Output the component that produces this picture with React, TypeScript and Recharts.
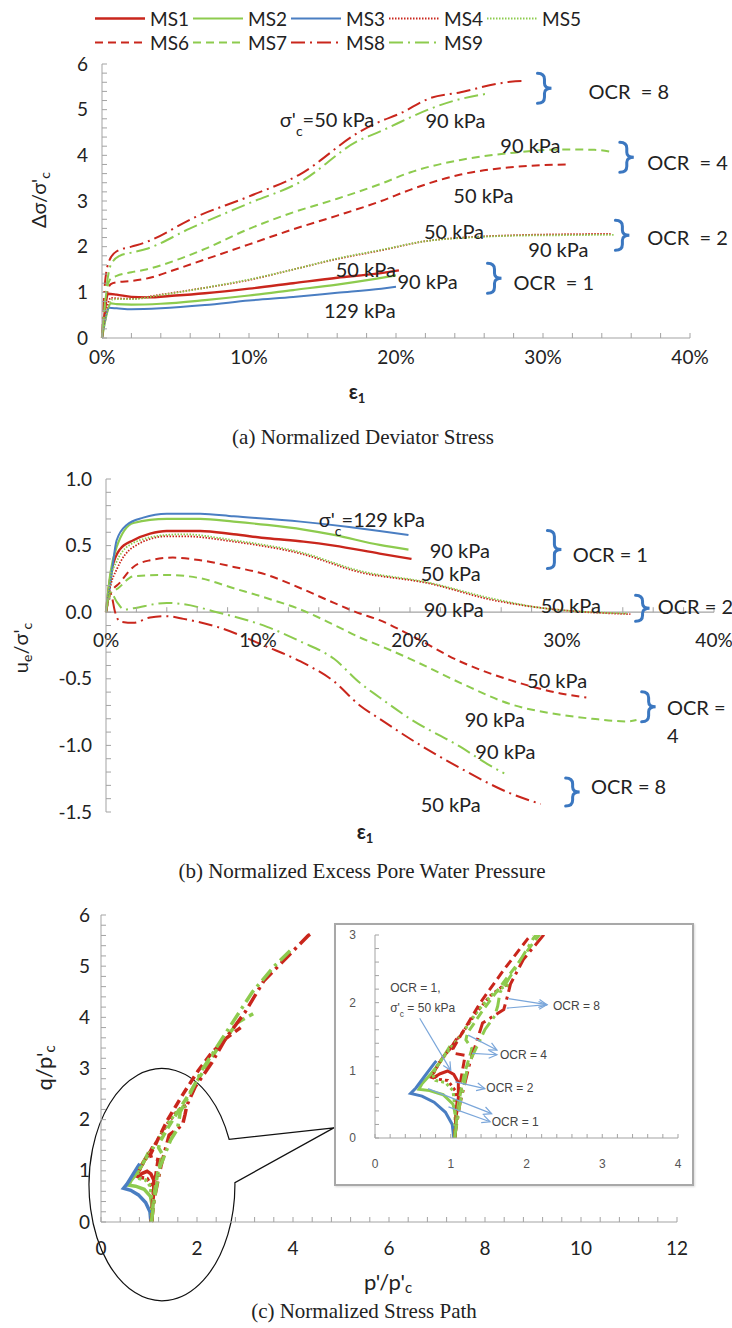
import React from 'react'
import {
  LineChart,
  Line,
  XAxis,
  YAxis,
  ReferenceDot,
  ReferenceLine,
  ReferenceArea,
} from 'recharts'

type Pt = [number, number]
type Note = { x: number; y: number; text: string; sub?: string; rest?: string }
type Brace = { x: number; y: number; h: number }
type Arrow = { from: Pt; to: Pt }

const RED = '#C9261C'
const GREEN = '#8DCB4E'
const BLUE = '#4A7EC2'
const AXIS = '#A3A3A3'
const INK = '#222'
const BRACE_BLUE = '#3B77C0'
const ARROW_BLUE = '#7AA6DA'
const SANS = 'Lato, "Open Sans", sans-serif'
const SERIF = '"Liberation Serif", "DejaVu Serif", serif'
const INSET_FONT = '"Liberation Sans", sans-serif'

// (a) normalized deviator stress vs axial strain (%)
const devMS1: Pt[] = [[0, 0], [0.2, 0.6], [0.4, 0.97], [1, 0.95], [2, 0.9], [3, 0.89], [5, 0.93], [7, 0.98], [10, 1.08], [13, 1.2], [16, 1.32], [18.7, 1.41], [20.2, 1.48]]
const devMS2: Pt[] = [[0, 0], [0.3, 0.5], [0.6, 0.76], [1, 0.74], [2, 0.73], [4, 0.75], [7, 0.83], [10, 0.93], [13, 1.05], [16, 1.17], [18.7, 1.3], [20, 1.37]]
const devMS3: Pt[] = [[0, 0], [0.2, 0.4], [0.5, 0.66], [1, 0.65], [2, 0.63], [4, 0.65], [7, 0.72], [10, 0.82], [13, 0.9], [16, 0.99], [19, 1.08], [20, 1.12]]
const devMS4: Pt[] = [[0, 0], [0.3, 0.6], [0.6, 0.88], [1, 0.87], [2, 0.86], [4, 0.95], [7, 1.1], [10, 1.27], [13, 1.5], [16, 1.73], [19, 1.92], [22, 2.12], [25, 2.21], [28, 2.25], [31, 2.27], [34.6, 2.28]]
const devMS5: Pt[] = [[0, 0], [0.3, 0.5], [0.7, 0.84], [1, 0.85], [2, 0.85], [4, 0.94], [7, 1.1], [10, 1.28], [13, 1.5], [16, 1.74], [19, 1.93], [22, 2.12], [25, 2.2], [28, 2.24], [31, 2.25], [34.8, 2.26]]
const devMS6: Pt[] = [[0, 0], [0.3, 0.9], [0.6, 1.18], [1, 1.22], [2, 1.25], [3, 1.3], [5, 1.5], [7, 1.72], [10, 2.05], [13, 2.38], [16, 2.68], [19, 3.0], [21, 3.25], [24.4, 3.58], [27.8, 3.74], [31.6, 3.8]]
const devMS7: Pt[] = [[0, 0], [0.3, 1.0], [0.6, 1.3], [1, 1.36], [2, 1.44], [3, 1.5], [5, 1.7], [7, 1.95], [10, 2.39], [13, 2.75], [16, 3.05], [19, 3.38], [21, 3.63], [24.4, 3.9], [27.8, 4.05], [31.2, 4.13], [33.5, 4.12], [34.8, 4.07]]
const devMS8: Pt[] = [[0, 0], [0.2, 1.2], [0.5, 1.7], [1, 1.9], [2, 2.0], [3, 2.1], [6.3, 2.64], [10, 3.1], [13.5, 3.59], [17.5, 4.51], [18.7, 4.71], [20.3, 4.92], [22.3, 5.25], [24.4, 5.38], [27.1, 5.58], [28.6, 5.63], [28.7, 5.56]]
const devMS9: Pt[] = [[0, 0], [0.3, 1.1], [0.6, 1.6], [1.2, 1.8], [2, 1.87], [3, 1.95], [6, 2.4], [10, 2.95], [13.5, 3.42], [17.5, 4.33], [18.7, 4.49], [20.3, 4.73], [22.1, 4.99], [24, 5.2], [26.2, 5.35]]

// (b) normalized excess pore pressure vs axial strain (%)
const ueMS1: Pt[] = [[0, 0], [0.2, 0.2], [0.4, 0.33], [0.9, 0.47], [1.8, 0.54], [2.9, 0.59], [4, 0.61], [6.2, 0.61], [8.4, 0.585], [10.6, 0.555], [13, 0.53], [15, 0.5], [18, 0.44], [20.1, 0.4]]
const ueMS2: Pt[] = [[0, 0], [0.3, 0.3], [0.7, 0.49], [1.8, 0.67], [4, 0.7], [6.2, 0.7], [8.4, 0.68], [10.6, 0.655], [13, 0.62], [15, 0.58], [18, 0.505], [19.9, 0.47]]
const ueMS3: Pt[] = [[0, 0], [0.26, 0.19], [0.7, 0.54], [1.36, 0.655], [2.45, 0.71], [4, 0.74], [6.2, 0.74], [8.4, 0.72], [12.8, 0.68], [16, 0.64], [18, 0.61], [19.9, 0.58]]
const ueMS4: Pt[] = [[0, 0], [0.3, 0.2], [0.7, 0.32], [1.8, 0.49], [4, 0.57], [5.1, 0.57], [8.4, 0.53], [12.8, 0.44], [16.7, 0.3], [21.1, 0.22], [25.5, 0.09], [28.8, 0.03], [34.5, -0.015]]
const ueMS5: Pt[] = [[0, 0], [0.3, 0.25], [0.7, 0.38], [1.8, 0.52], [4, 0.58], [5.1, 0.585], [8.4, 0.54], [12.8, 0.45], [16.7, 0.31], [21.1, 0.225], [25.5, 0.1], [28.8, 0.03], [34.3, -0.01]]
const ueMS6: Pt[] = [[0, 0], [0.3, 0.14], [0.9, 0.22], [1.8, 0.34], [2.9, 0.39], [4.4, 0.41], [6.2, 0.39], [8.4, 0.34], [10.6, 0.28], [12.8, 0.18], [15, 0.07], [16.7, -0.01], [18, -0.06], [20, -0.17], [23.3, -0.37], [26.6, -0.51], [29.9, -0.61], [31.6, -0.64]]
const ueMS7: Pt[] = [[0, 0], [0.3, 0.14], [0.8, 0.18], [1.8, 0.27], [4, 0.28], [6.2, 0.255], [8.4, 0.18], [10.6, 0.105], [12.8, 0.02], [15, -0.095], [16.7, -0.19], [18, -0.25], [20, -0.35], [23.3, -0.53], [26.6, -0.69], [29.9, -0.77], [32, -0.8], [34.3, -0.82], [34.9, -0.81]]
const ueMS8: Pt[] = [[0, 0], [0.3, 0.14], [0.6, 0.0], [0.9, -0.07], [1.8, -0.08], [2.9, -0.04], [4, -0.03], [5.1, -0.05], [7.3, -0.11], [10.6, -0.26], [12.8, -0.37], [15, -0.52], [16.7, -0.7], [18, -0.8], [20, -0.95], [23.3, -1.17], [26.6, -1.36], [28.6, -1.44]]
const ueMS9: Pt[] = [[0, 0], [0.3, 0.15], [0.7, 0.08], [1.2, 0.02], [1.8, 0.03], [4, 0.07], [5.1, 0.06], [7.3, 0.0], [10.6, -0.11], [12.8, -0.22], [15, -0.35], [16.7, -0.53], [18, -0.64], [20, -0.8], [23.3, -1.01], [25.1, -1.14], [26.2, -1.21]]

// (c) stress paths, p'/p'c vs q/p'c
const spMS1: Pt[] = [[1.05, 0], [1.07, 0.3], [1.1, 0.6], [1.1, 0.82], [1.04, 0.94], [0.96, 0.99], [0.86, 0.95], [0.77, 0.89], [0.74, 0.9], [0.8, 1.02], [0.9, 1.2], [1.0, 1.33], [1.08, 1.47]]
const spMS2: Pt[] = [[1.06, 0], [1.07, 0.3], [1.03, 0.5], [0.9, 0.64], [0.72, 0.7], [0.58, 0.72], [0.62, 0.8], [0.74, 0.95], [0.86, 1.12], [0.99, 1.36]]
const spMS3: Pt[] = [[1.04, 0], [1.02, 0.2], [0.93, 0.38], [0.78, 0.53], [0.62, 0.62], [0.47, 0.66], [0.54, 0.74], [0.66, 0.92], [0.78, 1.1], [0.81, 1.14]]
const spMS4: Pt[] = [[1.05, 0], [1.08, 0.4], [1.06, 0.7], [0.96, 0.85], [0.82, 0.87], [0.77, 0.95], [0.84, 1.1], [0.96, 1.28], [1.15, 1.55], [1.34, 1.86], [1.52, 2.1], [1.67, 2.23], [1.78, 2.28]]
const spMS5: Pt[] = [[1.05, 0], [1.06, 0.4], [1.03, 0.7], [0.93, 0.82], [0.8, 0.85], [0.76, 0.94], [0.84, 1.1], [0.98, 1.3], [1.16, 1.56], [1.35, 1.87], [1.53, 2.1], [1.68, 2.22], [1.77, 2.26]]
const spMS6: Pt[] = [[1.05, 0], [1.08, 0.5], [1.14, 0.9], [1.19, 1.22], [1.05, 1.25], [1.03, 1.32], [1.15, 1.55], [1.39, 2.0], [1.71, 2.5], [2.02, 2.95], [2.3, 3.3], [2.62, 3.6], [2.91, 3.8]]
const spMS7: Pt[] = [[1.05, 0], [1.1, 0.5], [1.18, 0.95], [1.28, 1.32], [1.2, 1.45], [1.22, 1.55], [1.4, 1.85], [1.63, 2.2], [2.0, 2.75], [2.4, 3.35], [2.85, 3.9], [3.17, 4.07]]
const spMS8: Pt[] = [[1.05, 0], [1.12, 0.5], [1.25, 1.1], [1.42, 1.7], [1.7, 1.9], [1.75, 2.1], [1.79, 2.28], [1.96, 2.64], [2.3, 3.1], [2.6, 3.59], [3.0, 4.1], [3.39, 4.71], [3.9, 5.2], [4.32, 5.6], [4.4, 5.65]]
const spMS9: Pt[] = [[1.05, 0], [1.12, 0.5], [1.23, 1.08], [1.45, 1.6], [1.58, 1.8], [1.62, 1.95], [1.65, 2.15], [1.85, 2.5], [2.09, 2.95], [2.5, 3.55], [3.15, 4.49], [3.6, 4.99], [3.99, 5.35]]

// tick labels
const devXMajor = [0, 10, 20, 30, 40]
const devYMajor = [0, 1, 2, 3, 4, 5, 6]
const ueXMajor = [0, 10, 20, 30, 40]
const ueYMajor = [-1.5, -1, -0.5, 0, 0.5, 1]
const spXMajor = [0, 2, 4, 6, 8, 10, 12]
const spYMajor = [0, 1, 2, 3, 4, 5, 6]
const insetXMajor = [0, 1, 2, 3, 4]
const insetYMajor = [0, 1, 2, 3]

// annotations
const devNotes: Note[] = [
  { x: 12.1, y: 4.77, text: "σ'", sub: 'c', rest: '=50 kPa' },
  { x: 22.0, y: 4.75, text: '90 kPa' },
  { x: 27.1, y: 4.2, text: '90 kPa' },
  { x: 23.9, y: 3.11, text: '50 kPa' },
  { x: 21.9, y: 2.32, text: '50 kPa' },
  { x: 29.0, y: 1.93, text: '90 kPa' },
  { x: 15.9, y: 1.49, text: '50 kPa' },
  { x: 20.1, y: 1.23, text: '90 kPa' },
  { x: 15.1, y: 0.59, text: '129 kPa' },
  { x: 33.1, y: 5.38, text: 'OCR  = 8' },
  { x: 37.1, y: 3.83, text: 'OCR  = 4' },
  { x: 37.1, y: 2.19, text: 'OCR  = 2' },
  { x: 28.0, y: 1.2, text: 'OCR  = 1' },
]
const devBraces: Brace[] = [
  { x: 30.1, y: 5.47, h: 30 },
  { x: 35.7, y: 3.96, h: 30 },
  { x: 35.4, y: 2.25, h: 30 },
  { x: 26.7, y: 1.31, h: 30 },
]
const ueNotes: Note[] = [
  { x: 14.0, y: 0.69, text: "σ'", sub: 'c', rest: '=129 kPa' },
  { x: 21.3, y: 0.46, text: '90 kPa' },
  { x: 20.7, y: 0.29, text: '50 kPa' },
  { x: 20.9, y: 0.015, text: '90 kPa' },
  { x: 28.6, y: 0.045, text: '50 kPa' },
  { x: 27.7, y: -0.52, text: '50 kPa' },
  { x: 23.6, y: -0.81, text: '90 kPa' },
  { x: 24.3, y: -1.05, text: '90 kPa' },
  { x: 20.7, y: -1.45, text: '50 kPa' },
  { x: 30.7, y: 0.43, text: 'OCR = 1' },
  { x: 36.3, y: 0.04, text: 'OCR = 2' },
  { x: 36.9, y: -0.72, text: 'OCR =' },
  { x: 36.9, y: -0.93, text: '4' },
  { x: 31.9, y: -1.31, text: 'OCR = 8' },
]
const ueBraces: Brace[] = [
  { x: 29.5, y: 0.47, h: 38 },
  { x: 35.3, y: 0.03, h: 26 },
  { x: 35.7, y: -0.71, h: 30 },
  { x: 30.7, y: -1.35, h: 28 },
]
const insetNotes: Note[] = [
  { x: 0.2, y: 2.22, text: 'OCR = 1,' },
  { x: 0.2, y: 1.93, text: "σ'", sub: 'c', rest: ' = 50 kPa' },
  { x: 2.35, y: 1.96, text: 'OCR = 8' },
  { x: 1.65, y: 1.23, text: 'OCR = 4' },
  { x: 1.47, y: 0.74, text: 'OCR = 2' },
  { x: 1.54, y: 0.24, text: 'OCR = 1' },
]
const insetArrows: Arrow[] = [
  { from: [0.59, 1.77], to: [1.0, 1.0] },
  { from: [1.76, 2.06], to: [2.27, 1.97] },
  { from: [1.74, 1.92], to: [2.27, 1.97] },
  { from: [1.23, 1.52], to: [1.61, 1.3] },
  { from: [1.28, 1.25], to: [1.61, 1.23] },
  { from: [1.06, 0.83], to: [1.45, 0.73] },
  { from: [0.7, 0.73], to: [1.54, 0.36] },
  { from: [0.97, 0.46], to: [1.52, 0.24] },
]
// zoom callout: ellipse bounds and pointer tip (data units of panel c)
const zoomX: Pt = [-0.25, 2.79]
const zoomY: Pt = [-1.54, 3.0]
const zoomTip: Pt = [4.85, 1.84]

const SERIES = [
  { name: 'MS1', color: RED, dash: undefined, spDash: undefined, width: 2.4, dev: devMS1, ue: ueMS1, sp: spMS1 },
  { name: 'MS2', color: GREEN, dash: undefined, spDash: undefined, width: 2.2, dev: devMS2, ue: ueMS2, sp: spMS2 },
  { name: 'MS3', color: BLUE, dash: undefined, spDash: undefined, width: 2, dev: devMS3, ue: ueMS3, sp: spMS3 },
  { name: 'MS4', color: RED, dash: '1.5 1.5', spDash: '3 3', width: 1.8, dev: devMS4, ue: ueMS4, sp: spMS4 },
  { name: 'MS5', color: GREEN, dash: '1.5 1.5', spDash: '3 3', width: 1.8, dev: devMS5, ue: ueMS5, sp: spMS5 },
  { name: 'MS6', color: RED, dash: '8 5', spDash: '9 5', width: 2, dev: devMS6, ue: ueMS6, sp: spMS6 },
  { name: 'MS7', color: GREEN, dash: '8 5', spDash: '9 5', width: 2, dev: devMS7, ue: ueMS7, sp: spMS7 },
  { name: 'MS8', color: RED, dash: '14 5 2 5', spDash: '14 5 3 5', width: 2, dev: devMS8, ue: ueMS8, sp: spMS8 },
  { name: 'MS9', color: GREEN, dash: '14 5 2 5', spDash: '14 5 3 5', width: 2, dev: devMS9, ue: ueMS9, sp: spMS9 },
]

const steps = (from: number, to: number, step: number) => {
  const out: number[] = []
  const n = Math.round((to - from) / step)
  for (let i = 0; i <= n; i++) out.push(Number((from + i * step).toFixed(4)))
  return out
}
const has = (list: number[]) => (v: number) => list.some((m) => Math.abs(m - v) < 1e-6)
const toPts = (arr: Pt[]) => arr.map(([x, y]) => ({ x, y }))

type TickStyle = { fontSize: number; fill: string; fontFamily: string }
const tick19: TickStyle = { fontSize: 19, fill: INK, fontFamily: SANS }
const tickInset: TickStyle = { fontSize: 12, fill: '#555', fontFamily: INSET_FONT }

// ticks drawn inside the plot, labels outside (axis tickSize/tickMargin set to 0)
const leftTick = (fmt: (v: number) => string, gap: number, len: number, st: TickStyle) => (p: any) => (
  <g>
    <line x1={p.x} y1={p.y} x2={p.x + len} y2={p.y} stroke={AXIS} />
    <text x={p.x - gap} y={p.y} dy="0.35em" textAnchor="end" {...st}>
      {fmt(p.payload.value)}
    </text>
  </g>
)
const bottomTick = (fmt: (v: number) => string, gap: number, len: number, st: TickStyle) => (p: any) => (
  <g>
    <line x1={p.x} y1={p.y} x2={p.x} y2={p.y - len} stroke={AXIS} />
    <text x={p.x} y={p.y + gap} dy="0.35em" textAnchor="middle" {...st}>
      {fmt(p.payload.value)}
    </text>
  </g>
)

function renderNotes(notes: Note[], size = 20, font = SANS, fill = INK) {
  return notes.map((n, i) => (
    <ReferenceDot
      key={'note' + i}
      x={n.x}
      y={n.y}
      r={0}
      ifOverflow="visible"
      shape={(p: any) => (
        <text x={p.cx} y={p.cy} dy="0.35em" fontSize={size} fill={fill} fontFamily={font} style={{ whiteSpace: 'pre' }}>
          {n.text}
          {n.sub ? (
            <tspan fontSize={size * 0.7} baselineShift="sub">
              {n.sub}
            </tspan>
          ) : null}
          {n.rest ? <tspan>{n.rest}</tspan> : null}
        </text>
      )}
    />
  ))
}

function bracePath(cx: number, cy: number, h: number) {
  const t = cy - h / 2
  const b = cy + h / 2
  return `M${cx - 7},${t} Q${cx},${t} ${cx},${t + 6} L${cx},${cy - 5} Q${cx},${cy} ${cx + 7},${cy} Q${cx},${cy} ${cx},${cy + 5} L${cx},${b - 6} Q${cx},${b} ${cx - 7},${b}`
}

function renderBraces(list: Brace[]) {
  return list.map((b, i) => (
    <ReferenceDot
      key={'brace' + i}
      x={b.x}
      y={b.y}
      r={0}
      ifOverflow="visible"
      shape={(p: any) => (
        <path d={bracePath(p.cx, p.cy, b.h)} fill="none" stroke={BRACE_BLUE} strokeWidth={3} strokeLinecap="round" />
      )}
    />
  ))
}

function arrowShape(p: any) {
  const { x1, y1, x2, y2 } = p
  const a = Math.atan2(y2 - y1, x2 - x1)
  const L = 9
  const h1 = [x2 - L * Math.cos(a - 0.45), y2 - L * Math.sin(a - 0.45)]
  const h2 = [x2 - L * Math.cos(a + 0.45), y2 - L * Math.sin(a + 0.45)]
  return (
    <g stroke={ARROW_BLUE} strokeWidth={1.2} fill="none">
      <line x1={x1} y1={y1} x2={x2} y2={y2} />
      <path d={`M${h1[0]},${h1[1]} L${x2},${y2} L${h2[0]},${h2[1]}`} />
    </g>
  )
}

function calloutShape(p: any) {
  const { x, y, width, height } = p
  const cx = x + width / 2
  const cy = y + height / 2
  const rx = width / 2
  const ry = height / 2
  const kx = width / (zoomX[1] - zoomX[0])
  const ky = height / (zoomY[1] - zoomY[0])
  const tx = x + (zoomTip[0] - zoomX[0]) * kx
  const ty = y + (zoomY[1] - zoomTip[1]) * ky
  const at = (deg: number) => [cx + rx * Math.cos((deg * Math.PI) / 180), cy + ry * Math.sin((deg * Math.PI) / 180)]
  const [ax, ay] = at(-1)
  const [bx, by] = at(-23)
  return (
    <path
      d={`M${ax},${ay} A${rx},${ry} 0 1 1 ${bx},${by} L${tx},${ty} Z`}
      fill="none"
      stroke="#111"
      strokeWidth={1.2}
    />
  )
}

function Txt({ x, y, children, style }: { x: number; y: number; children: React.ReactNode; style?: React.CSSProperties }) {
  return (
    <div
      style={{
        position: 'absolute',
        left: x,
        top: y,
        transform: 'translate(-50%, -50%)',
        whiteSpace: 'nowrap',
        fontFamily: SANS,
        color: INK,
        lineHeight: 1,
        ...style,
      }}
    >
      {children}
    </div>
  )
}

function LegendBlock() {
  return (
    <>
      {SERIES.map((s, i) => {
        const row = i < 5 ? 0 : 1
        const col = i < 5 ? i : i - 5
        return (
          <div
            key={s.name}
            style={{
              position: 'absolute',
              left: 95 + col * 98,
              top: row === 0 ? 18 : 42,
              transform: 'translateY(-50%)',
              display: 'flex',
              alignItems: 'center',
              gap: 5,
              fontSize: 19,
              fontFamily: SANS,
              color: INK,
              lineHeight: 1,
            }}
          >
            <svg width={50} height={8}>
              <line x1={0} y1={4} x2={50} y2={4} stroke={s.color} strokeWidth={s.width} strokeDasharray={s.dash} />
            </svg>
            <span>{s.name}</span>
          </div>
        )
      })}
    </>
  )
}

const sub = (t: string, size = 14) => <sub style={{ fontSize: size, verticalAlign: '-0.25em' }}>{t}</sub>

export default function App() {
  const devXFmt = (v: number) => (has(devXMajor)(v) ? `${v}%` : '')
  const devYFmt = (v: number) => (has(devYMajor)(v) ? String(v) : '')
  const ueYFmt = (v: number) => (has(ueYMajor)(v) ? v.toFixed(1) : '')
  const spXFmt = (v: number) => (has(spXMajor)(v) ? String(v) : '')
  const spYFmt = (v: number) => (has(spYMajor)(v) ? String(v) : '')
  const inXFmt = (v: number) => (has(insetXMajor)(v) ? String(v) : '')
  const inYFmt = (v: number) => (has(insetYMajor)(v) ? String(v) : '')
  const isUeMajor = has(ueXMajor)

  return (
    <div style={{ position: 'absolute', left: 0, top: 0, width: 732, height: 1328, background: '#fff', overflow: 'hidden' }}>
      {/* (a) deviator stress */}
      <div style={{ position: 'absolute', left: 0, top: 0 }}>
        <LineChart width={732} height={400} margin={{ top: 64, right: 42, bottom: 32, left: 0 }}>
          <XAxis
            type="number"
            dataKey="x"
            domain={[0, 40]}
            ticks={steps(0, 40, 2)}
            interval={0}
            stroke={AXIS}
            tickLine={false}
            tickSize={0}
            tickMargin={0}
            tick={bottomTick(devXFmt, 19, 5, tick19)}
            height={30}
          />
          <YAxis
            type="number"
            domain={[0, 6]}
            ticks={steps(0, 6, 0.2)}
            interval={0}
            stroke={AXIS}
            tickLine={false}
            tickSize={0}
            tickMargin={0}
            tick={leftTick(devYFmt, 14, 5, tick19)}
            width={102}
          />
          {SERIES.map((s) => (
            <Line
              key={s.name}
              data={toPts(s.dev)}
              dataKey="y"
              type="monotone"
              stroke={s.color}
              strokeWidth={s.width}
              strokeDasharray={s.dash}
              dot={false}
              isAnimationActive={false}
            />
          ))}
          {renderNotes(devNotes)}
          {renderBraces(devBraces)}
        </LineChart>
      </div>
      <LegendBlock />
      <Txt x={40} y={200} style={{ fontSize: 20, transform: 'translate(-50%, -50%) rotate(-90deg)' }}>
        Δσ/σ'{sub('c')}
      </Txt>
      <Txt x={357} y={393} style={{ fontSize: 20, fontWeight: 700 }}>
        ε{sub('1', 13)}
      </Txt>
      <Txt x={363} y={437} style={{ fontSize: 21, fontFamily: SERIF }}>
        (a) Normalized Deviator Stress
      </Txt>

      {/* (b) excess pore pressure */}
      <div style={{ position: 'absolute', left: 0, top: 440 }}>
        <LineChart width={732} height={400} margin={{ top: 39, right: 18, bottom: 28, left: 0 }}>
          <XAxis type="number" dataKey="x" domain={[0, 40]} hide />
          <YAxis
            type="number"
            domain={[-1.5, 1]}
            ticks={steps(-1.5, 1, 0.1)}
            interval={0}
            stroke={AXIS}
            tickLine={false}
            tickSize={0}
            tickMargin={0}
            tick={leftTick(ueYFmt, 14, 5, tick19)}
            width={106}
          />
          <ReferenceLine y={0} stroke={AXIS} strokeWidth={1.3} />
          {steps(0, 40, 2).map((v) => (
            <ReferenceDot
              key={'xt' + v}
              x={v}
              y={0}
              r={0}
              ifOverflow="visible"
              shape={(p: any) => (
                <g>
                  <line x1={p.cx} y1={p.cy} x2={p.cx} y2={p.cy - 5} stroke={AXIS} />
                  {isUeMajor(v) ? (
                    <text x={p.cx} y={p.cy + 28} dy="0.35em" textAnchor="middle" fontSize={19} fill={INK} fontFamily={SANS}>
                      {`${v}%`}
                    </text>
                  ) : null}
                </g>
              )}
            />
          ))}
          {SERIES.map((s) => (
            <Line
              key={s.name}
              data={toPts(s.ue)}
              dataKey="y"
              type="monotone"
              stroke={s.color}
              strokeWidth={s.width}
              strokeDasharray={s.dash}
              dot={false}
              isAnimationActive={false}
            />
          ))}
          {renderNotes(ueNotes)}
          {renderBraces(ueBraces)}
        </LineChart>
      </div>
      <Txt x={22} y={648} style={{ fontSize: 20, transform: 'translate(-50%, -50%) rotate(-90deg)' }}>
        u{sub('e')}/σ'{sub('c')}
      </Txt>
      <Txt x={365} y={833} style={{ fontSize: 20, fontWeight: 700 }}>
        ε{sub('1', 13)}
      </Txt>
      <Txt x={362} y={871} style={{ fontSize: 21, fontFamily: SERIF }}>
        (b) Normalized Excess Pore Water Pressure
      </Txt>

      {/* (c) stress path */}
      <div style={{ position: 'absolute', left: 0, top: 880 }}>
        <LineChart width={732} height={430} margin={{ top: 35, right: 55, bottom: 58, left: 0 }}>
          <XAxis
            type="number"
            dataKey="x"
            domain={[0, 12]}
            ticks={steps(0, 12, 0.4)}
            interval={0}
            stroke={AXIS}
            tickLine={false}
            tickSize={0}
            tickMargin={0}
            tick={bottomTick(spXFmt, 26, 5, tick19)}
            height={30}
          />
          <YAxis
            type="number"
            domain={[0, 6]}
            ticks={steps(0, 6, 0.2)}
            interval={0}
            stroke={AXIS}
            tickLine={false}
            tickSize={0}
            tickMargin={0}
            tick={leftTick(spYFmt, 11, 5, tick19)}
            width={101}
          />
          {SERIES.map((s) => (
            <Line
              key={s.name}
              data={toPts(s.sp)}
              dataKey="y"
              type="linear"
              stroke={s.color}
              strokeWidth={3.5}
              strokeDasharray={s.spDash}
              dot={false}
              isAnimationActive={false}
            />
          ))}
          <ReferenceArea
            x1={zoomX[0]}
            x2={zoomX[1]}
            y1={zoomY[0]}
            y2={zoomY[1]}
            ifOverflow="visible"
            shape={calloutShape}
          />
        </LineChart>
      </div>
      <div
        style={{
          position: 'absolute',
          left: 334,
          top: 923,
          width: 356,
          height: 259,
          border: '2px solid #A8A8A8',
          background: '#fff',
          boxShadow: '1px 1px 2px rgba(0,0,0,0.15)',
        }}
      >
        <LineChart width={356} height={259} margin={{ top: 10, right: 14, bottom: 16, left: 0 }}>
          <XAxis
            type="number"
            dataKey="x"
            domain={[0, 4]}
            ticks={steps(0, 4, 0.2)}
            interval={0}
            stroke={AXIS}
            tickLine={false}
            tickSize={0}
            tickMargin={0}
            tick={bottomTick(inXFmt, 26, 4, tickInset)}
            height={30}
            allowDataOverflow
          />
          <YAxis
            type="number"
            domain={[0, 3]}
            ticks={steps(0, 3, 0.2)}
            interval={0}
            stroke={AXIS}
            tickLine={false}
            tickSize={0}
            tickMargin={0}
            tick={leftTick(inYFmt, 19, 4, tickInset)}
            width={39}
            allowDataOverflow
          />
          {SERIES.map((s) => (
            <Line
              key={s.name}
              data={toPts(s.sp)}
              dataKey="y"
              type="linear"
              stroke={s.color}
              strokeWidth={3}
              strokeDasharray={s.spDash}
              dot={false}
              isAnimationActive={false}
            />
          ))}
          {insetArrows.map((a, i) => (
            <ReferenceLine
              key={'arr' + i}
              segment={[
                { x: a.from[0], y: a.from[1] },
                { x: a.to[0], y: a.to[1] },
              ]}
              ifOverflow="visible"
              shape={arrowShape}
            />
          ))}
          {renderNotes(insetNotes, 12, INSET_FONT, '#444')}
        </LineChart>
      </div>
      <Txt x={45} y={1068} style={{ fontSize: 22, transform: 'translate(-50%, -50%) rotate(-90deg)' }}>
        q/p'{sub('c', 15)}
      </Txt>
      <Txt x={388} y={1283} style={{ fontSize: 22 }}>
        p'/p'{sub('c', 15)}
      </Txt>
      <Txt x={364} y={1311} style={{ fontSize: 21, fontFamily: SERIF }}>
        (c) Normalized Stress Path
      </Txt>
    </div>
  )
}
